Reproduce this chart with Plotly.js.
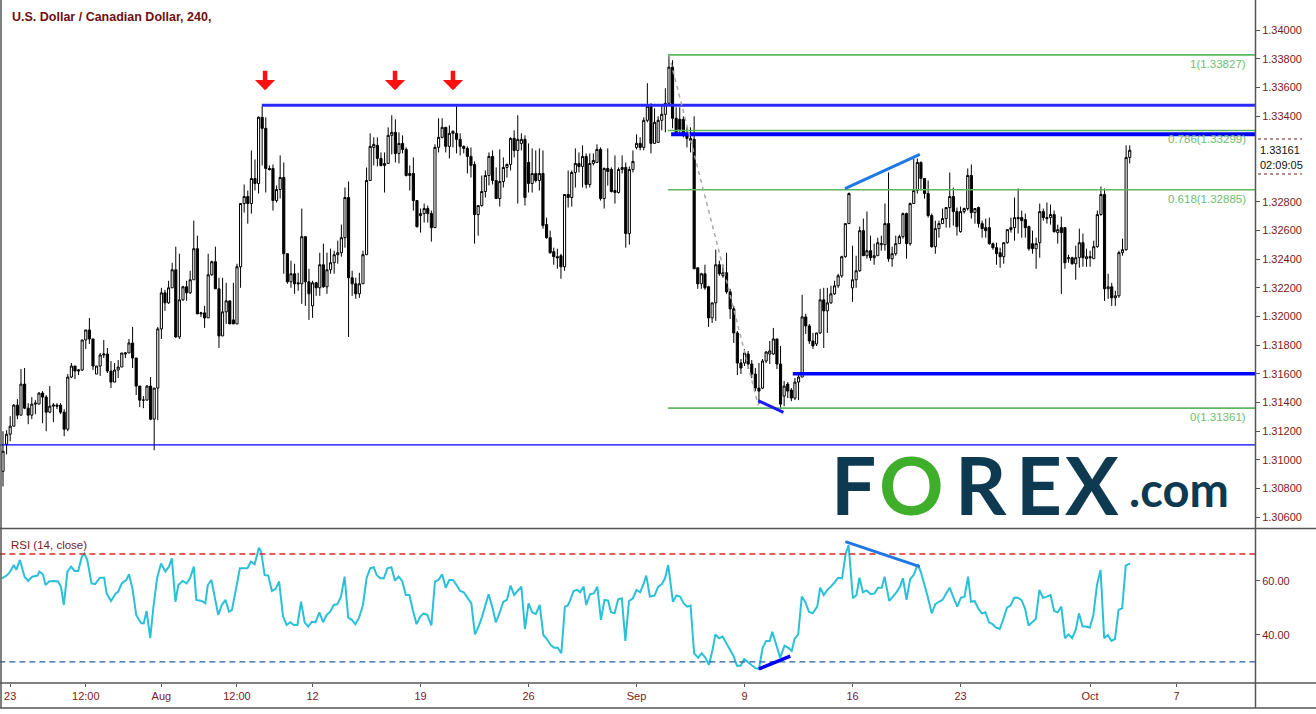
<!DOCTYPE html>
<html><head><meta charset="utf-8">
<script src="https://cdn.plot.ly/plotly-3.0.1.min.js"></script>
<style>html,body{margin:0;padding:0;background:#fff;}#chart{width:1316px;height:714px;}</style>
</head><body><div id="chart"></div>
<script>
// ---------- DATA ----------
const openP=[1.30920,1.31109,1.31179,1.31235,1.31382,1.31312,1.31529,1.31361,1.31312,1.31389,
1.31389,1.31466,1.31438,1.31333,1.31375,1.31382,1.31382,1.31333,1.31214,1.31578,
1.31655,1.31620,1.31627,1.31837,1.31907,1.31844,1.31599,1.31655,1.31732,1.31739,
1.31620,1.31543,1.31627,1.31648,1.31739,1.31746,1.31816,1.31711,1.31515,1.31417,
1.31417,1.31515,1.31284,1.31501,1.31914,1.32166,1.32096,1.32201,1.32327,1.31858,
1.32117,1.32208,1.32166,1.32257,1.32474,1.32019,1.32026,1.31991,1.32292,1.32383,
1.32194,1.31865,1.32033,1.32110,1.31977,1.31949,1.32348,1.32789,1.32838,1.32789,
1.32964,1.32929,1.33391,1.33314,1.33034,1.33034,1.32810,1.32887,1.32971,1.32439,
1.32243,1.32299,1.32236,1.32229,1.32558,1.32243,1.32075,1.32236,1.32201,1.32362,
1.32208,1.32327,1.32376,1.32432,1.32446,1.32551,1.32831,1.32271,1.32229,1.32159,
1.32229,1.32432,1.32950,1.33181,1.33195,1.33104,1.33055,1.33069,1.33265,1.33286,
1.33139,1.33209,1.33167,1.32985,1.32999,1.32810,1.32705,1.32719,1.32754,1.32719,
1.32621,1.33181,1.33251,1.33321,1.33188,1.33279,1.33279,1.33237,1.33188,1.33174,
1.33118,1.33062,1.32712,1.32775,1.32873,1.32985,1.33118,1.32950,1.32824,1.32943,
1.33041,1.33062,1.33244,1.33160,1.33209,1.33237,1.33076,1.32929,1.32999,1.32950,
1.32999,1.32642,1.32551,1.32453,1.32418,1.32425,1.32348,1.32852,1.32831,1.33006,
1.33069,1.33048,1.33118,1.32922,1.33069,1.33076,1.33167,1.32824,1.33034,1.33027,
1.32880,1.32866,1.33027,1.33041,1.32579,1.33027,1.33181,1.33209,1.33181,1.33370,
1.33468,1.33209,1.33216,1.33370,1.33412,1.33489,1.33741,1.33384,1.33377,1.33377,
1.33279,1.33230,1.33237,1.32341,1.32229,1.32299,1.32208,1.31991,1.32096,1.32362,
1.32285,1.32306,1.32173,1.32054,1.31886,1.31676,1.31676,1.31739,1.31669,1.31599,
1.31501,1.31501,1.31690,1.31739,1.31739,1.31844,1.31669,1.31445,1.31529,1.31487,
1.31431,1.31543,1.31578,1.31998,1.31935,1.31830,1.31809,1.31886,1.32117,1.32040,
1.32096,1.32159,1.32215,1.32285,1.32418,1.32649,1.32201,1.32257,1.32320,1.32600,
1.32425,1.32460,1.32411,1.32425,1.32502,1.32502,1.32649,1.32404,1.32439,1.32509,
1.32558,1.32719,1.32509,1.32789,1.32880,1.33076,1.32964,1.32859,1.32705,1.32488,
1.32614,1.32649,1.32684,1.32761,1.32838,1.32733,1.32593,1.32733,1.32754,1.32985,
1.32726,1.32761,1.32649,1.32621,1.32621,1.32509,1.32481,1.32446,1.32418,1.32516,
1.32607,1.32621,1.32691,1.32691,1.32677,1.32628,1.32509,1.32474,1.32516,1.32733,
1.32691,1.32691,1.32712,1.32586,1.32621,1.32621,1.32404,1.32411,1.32369,1.32411,
1.32516,1.32404,1.32418,1.32404,1.32488,1.32712,1.32852,1.32194,1.32208,1.32131,
1.32145,1.32446,1.32467,1.33111];
const highP=[1.31200,1.31207,1.31305,1.31389,1.31424,1.31634,1.31641,1.31396,1.31438,1.31417,
1.31473,1.31480,1.31452,1.31515,1.31396,1.31396,1.31396,1.31354,1.31599,1.31676,
1.31655,1.31634,1.31837,1.31907,1.31991,1.31844,1.31655,1.31746,1.31837,1.31781,
1.31690,1.31676,1.31697,1.31746,1.31753,1.31844,1.31928,1.31711,1.31515,1.31445,
1.31522,1.31578,1.31501,1.31928,1.32201,1.32187,1.32250,1.32376,1.32488,1.32439,
1.32215,1.32250,1.32320,1.32670,1.32565,1.32033,1.32075,1.32439,1.32390,1.32488,
1.32271,1.32271,1.32236,1.32110,1.32236,1.32369,1.32789,1.32922,1.32880,1.33160,
1.33097,1.33398,1.33468,1.33391,1.33055,1.33062,1.32915,1.33125,1.33076,1.32439,
1.32390,1.32369,1.32306,1.32754,1.32558,1.32334,1.32250,1.32243,1.32446,1.32509,
1.32446,1.32474,1.32460,1.32530,1.32642,1.32901,1.32943,1.32320,1.32271,1.32306,
1.32460,1.33041,1.33279,1.33251,1.33251,1.33146,1.33146,1.33321,1.33405,1.33377,
1.33286,1.33265,1.33181,1.33055,1.33111,1.32810,1.32754,1.32789,1.32775,1.32740,
1.33202,1.33384,1.33384,1.33321,1.33335,1.33300,1.33475,1.33279,1.33195,1.33188,
1.33181,1.33083,1.32775,1.32985,1.33020,1.33146,1.33160,1.33041,1.33167,1.33111,
1.33069,1.33251,1.33300,1.33405,1.33279,1.33265,1.33209,1.33174,1.33160,1.33174,
1.33160,1.32691,1.32600,1.32481,1.32474,1.32439,1.32852,1.33020,1.33020,1.33174,
1.33146,1.33195,1.33139,1.33139,1.33139,1.33202,1.33181,1.33041,1.33174,1.33041,
1.33125,1.33041,1.33125,1.33076,1.33048,1.33160,1.33272,1.33251,1.33391,1.33629,
1.33489,1.33454,1.33398,1.33482,1.33594,1.33827,1.33790,1.33461,1.33461,1.33398,
1.33321,1.33321,1.33398,1.32341,1.32306,1.32362,1.32215,1.32096,1.32467,1.32390,
1.32362,1.32446,1.32194,1.32075,1.31900,1.31704,1.31774,1.31760,1.31697,1.31641,
1.31676,1.31704,1.31760,1.31830,1.31921,1.31844,1.31795,1.31550,1.31543,1.31501,
1.31571,1.31606,1.32152,1.32019,1.31949,1.31886,1.31886,1.32194,1.32201,1.32201,
1.32215,1.32250,1.32299,1.32425,1.32649,1.32866,1.32495,1.32425,1.32628,1.32684,
1.32733,1.32565,1.32509,1.32551,1.32565,1.32789,1.33006,1.32488,1.32565,1.32572,
1.32726,1.32726,1.32796,1.33104,1.33104,1.33083,1.32964,1.32950,1.32719,1.32670,
1.32670,1.32754,1.32761,1.33006,1.32901,1.32761,1.32768,1.32761,1.33034,1.33062,
1.32754,1.32768,1.32670,1.32684,1.32691,1.32516,1.32516,1.32481,1.32516,1.32607,
1.32691,1.32831,1.32894,1.32740,1.32719,1.32635,1.32600,1.32551,1.32789,1.32754,
1.32796,1.32782,1.32740,1.32642,1.32698,1.32621,1.32432,1.32418,1.32495,1.32614,
1.32579,1.32474,1.32460,1.32530,1.32740,1.32908,1.32894,1.32299,1.32236,1.32180,
1.32460,1.32544,1.33195,1.33195];
const lowP=[1.30815,1.31039,1.31130,1.31235,1.31284,1.31312,1.31354,1.31249,1.31284,1.31319,
1.31389,1.31256,1.31200,1.31326,1.31263,1.31354,1.31319,1.31165,1.31200,1.31571,
1.31564,1.31592,1.31620,1.31774,1.31809,1.31627,1.31599,1.31585,1.31711,1.31606,
1.31501,1.31543,1.31571,1.31648,1.31711,1.31746,1.31641,1.31452,1.31368,1.31361,
1.31417,1.31277,1.31067,1.31277,1.31844,1.32040,1.32089,1.32201,1.31851,1.31844,
1.32110,1.32110,1.32159,1.32257,1.32019,1.31998,1.31921,1.31991,1.32285,1.32194,
1.31781,1.31865,1.31949,1.31949,1.31949,1.31949,1.32201,1.32726,1.32649,1.32719,
1.32880,1.32859,1.33055,1.32866,1.33020,1.32740,1.32796,1.32824,1.32299,1.32229,
1.32201,1.32159,1.32180,1.32089,1.32075,1.31977,1.31991,1.32145,1.32145,1.32201,
1.32159,1.32299,1.32299,1.32369,1.32418,1.32481,1.31858,1.32145,1.32124,1.32131,
1.32229,1.32432,1.32950,1.33055,1.33048,1.33048,1.32866,1.33069,1.33132,1.33076,
1.33069,1.33139,1.32978,1.32880,1.32740,1.32621,1.32586,1.32656,1.32656,1.32523,
1.32621,1.33146,1.33244,1.33146,1.33104,1.33181,1.33139,1.33125,1.33139,1.32999,
1.32971,1.32509,1.32565,1.32768,1.32831,1.32915,1.32922,1.32824,1.32768,1.32901,
1.32971,1.33020,1.33111,1.32789,1.33160,1.32775,1.32866,1.32866,1.32936,1.32880,
1.32614,1.32544,1.32439,1.32362,1.32334,1.32264,1.32320,1.32761,1.32768,1.32901,
1.33006,1.32901,1.32894,1.32901,1.33055,1.33076,1.32810,1.32754,1.32915,1.32866,
1.32789,1.32859,1.32999,1.32481,1.32502,1.33006,1.33167,1.33160,1.33160,1.33356,
1.33139,1.33209,1.33216,1.33300,1.33286,1.33475,1.33314,1.33265,1.33265,1.33251,
1.33181,1.33146,1.32334,1.32194,1.32194,1.32187,1.31928,1.31956,1.31970,1.32285,
1.32271,1.32159,1.31984,1.31816,1.31592,1.31599,1.31655,1.31634,1.31571,1.31480,
1.31389,1.31494,1.31676,1.31669,1.31732,1.31634,1.31354,1.31375,1.31431,1.31410,
1.31417,1.31417,1.31578,1.31879,1.31809,1.31774,1.31795,1.31879,1.31781,1.31886,
1.32089,1.32152,1.32201,1.32271,1.32411,1.32649,1.32103,1.32201,1.32313,1.32425,
1.32404,1.32390,1.32362,1.32425,1.32460,1.32460,1.32383,1.32348,1.32425,1.32509,
1.32544,1.32404,1.32495,1.32789,1.32859,1.32880,1.32824,1.32691,1.32481,1.32439,
1.32551,1.32649,1.32621,1.32621,1.32635,1.32565,1.32586,1.32719,1.32740,1.32684,
1.32649,1.32621,1.32551,1.32551,1.32502,1.32467,1.32362,1.32341,1.32369,1.32509,
1.32586,1.32530,1.32579,1.32551,1.32551,1.32460,1.32439,1.32334,1.32411,1.32670,
1.32649,1.32642,1.32586,1.32509,1.32159,1.32334,1.32376,1.32362,1.32257,1.32341,
1.32348,1.32348,1.32348,1.32404,1.32481,1.32705,1.32110,1.32124,1.32075,1.32075,
1.32131,1.32425,1.32460,1.33069];
const closeP=[1.31060,1.31179,1.31235,1.31382,1.31312,1.31529,1.31361,1.31312,1.31389,1.31396,
1.31466,1.31438,1.31333,1.31375,1.31382,1.31375,1.31333,1.31214,1.31578,1.31655,
1.31620,1.31627,1.31837,1.31907,1.31844,1.31655,1.31655,1.31732,1.31739,1.31620,
1.31543,1.31627,1.31648,1.31746,1.31746,1.31816,1.31711,1.31515,1.31417,1.31417,
1.31515,1.31284,1.31501,1.31914,1.32166,1.32096,1.32201,1.32327,1.31858,1.32117,
1.32208,1.32166,1.32257,1.32474,1.32019,1.32026,1.31991,1.32292,1.32383,1.32194,
1.31865,1.32033,1.32110,1.31949,1.31949,1.32348,1.32789,1.32838,1.32789,1.32964,
1.32929,1.33391,1.33314,1.33034,1.33027,1.32810,1.32887,1.32971,1.32439,1.32243,
1.32299,1.32229,1.32229,1.32558,1.32243,1.32159,1.32236,1.32201,1.32362,1.32208,
1.32327,1.32376,1.32432,1.32446,1.32551,1.32831,1.32271,1.32229,1.32159,1.32229,
1.32432,1.32950,1.33188,1.33202,1.33104,1.33055,1.33069,1.33265,1.33286,1.33139,
1.33209,1.33167,1.32985,1.32999,1.32810,1.32628,1.32719,1.32754,1.32719,1.32621,
1.33181,1.33251,1.33321,1.33188,1.33279,1.33293,1.33237,1.33188,1.33174,1.33118,
1.33055,1.32712,1.32775,1.32873,1.32985,1.33118,1.32950,1.32824,1.32943,1.33041,
1.33062,1.33244,1.33160,1.33237,1.33237,1.32831,1.32929,1.32999,1.32950,1.32999,
1.32635,1.32551,1.32446,1.32418,1.32411,1.32348,1.32852,1.32831,1.33006,1.33069,
1.33048,1.33118,1.32922,1.33069,1.33090,1.33167,1.32824,1.33034,1.33013,1.32873,
1.32866,1.33027,1.33041,1.32579,1.33027,1.33083,1.33209,1.33181,1.33370,1.33468,
1.33209,1.33356,1.33370,1.33412,1.33489,1.33741,1.33384,1.33272,1.33307,1.33279,
1.33244,1.33244,1.32334,1.32229,1.32299,1.32201,1.31991,1.32096,1.32362,1.32299,
1.32306,1.32173,1.32054,1.31886,1.31676,1.31641,1.31746,1.31669,1.31599,1.31501,
1.31480,1.31690,1.31753,1.31760,1.31844,1.31669,1.31389,1.31515,1.31480,1.31431,
1.31543,1.31578,1.31998,1.31935,1.31830,1.31795,1.31886,1.32117,1.32040,1.32096,
1.32159,1.32215,1.32285,1.32418,1.32649,1.32859,1.32257,1.32320,1.32600,1.32425,
1.32460,1.32411,1.32425,1.32516,1.32509,1.32649,1.32404,1.32439,1.32509,1.32558,
1.32719,1.32509,1.32789,1.32880,1.33076,1.32964,1.32859,1.32705,1.32488,1.32614,
1.32649,1.32684,1.32761,1.32838,1.32733,1.32628,1.32733,1.32754,1.32985,1.32726,
1.32754,1.32649,1.32614,1.32600,1.32509,1.32481,1.32439,1.32418,1.32516,1.32607,
1.32621,1.32691,1.32684,1.32670,1.32621,1.32474,1.32474,1.32509,1.32733,1.32691,
1.32684,1.32712,1.32593,1.32607,1.32586,1.32376,1.32411,1.32369,1.32411,1.32516,
1.32411,1.32418,1.32411,1.32488,1.32712,1.32852,1.32194,1.32208,1.32131,1.32145,
1.32446,1.32467,1.33111,1.33161];

const rsiX=[-0.3,1.2,2.0,3.0,3.7,4.7,6.0,7.0,8.1,9.0,
9.6,10.1,11.1,11.8,12.8,14.1,15.3,16.1,16.9,17.9,
18.9,19.9,20.9,21.9,22.6,23.4,24.6,25.6,26.9,28.1,
28.8,30.0,31.3,32.0,33.0,34.3,35.0,36.0,37.0,38.4,
39.1,39.9,40.9,41.8,42.8,43.9,45.1,46.1,46.9,47.9,
48.7,49.9,51.0,52.0,53.0,53.7,55.2,56.2,56.9,57.9,
58.8,59.8,60.8,61.8,62.8,63.6,64.8,65.8,67.9,68.9,
69.9,71.1,71.7,72.7,73.7,74.7,75.7,76.7,77.8,78.8,
79.8,80.8,81.8,82.8,83.8,84.8,85.8,86.8,87.9,88.9,
89.9,90.9,91.9,92.9,93.9,94.9,95.9,96.9,97.9,98.9,
100.0,101.0,102.0,103.0,103.8,104.8,105.8,106.8,107.9,108.9,
109.9,110.9,111.9,112.9,113.9,114.9,115.9,116.9,117.9,119.0,
120.0,121.0,122.0,123.0,124.0,125.0,126.0,127.0,128.0,129.1,
130.1,131.1,132.1,133.1,134.1,134.9,135.9,136.9,137.9,139.0,
140.0,141.0,142.0,143.0,144.0,145.0,146.0,147.0,148.0,149.1,
150.1,151.1,152.1,153.1,154.1,155.1,156.1,156.9,
157.5,158.5,159.5,160.3,161.3,162.0,163.1,164.1,165.1,166.1,
167.1,168.1,168.9,169.9,170.9,171.9,172.9,173.9,175.0,176.0,
177.0,178.0,178.7,179.7,181.0,182.0,183.0,183.9,184.8,186.1,
187.1,188.1,189.1,190.1,191.0,192.0,193.1,194.1,195.1,196.1,
197.1,197.9,198.9,199.9,200.9,201.9,202.9,203.9,204.9,205.9,
206.9,208.0,209.0,210.0,211.0,212.0,213.0,213.7,214.6,215.9,
217.1,218.1,219.1,219.9,220.9,221.9,222.9,223.9,224.9,226.2,
227.0,228.0,229.0,230.0,231.0,232.0,233.1,234.1,234.9,236.1,
237.1,237.9,238.9,239.9,241.1,242.1,243.1,244.1,244.9,246.2,
247.2,248.2,249.2,250.0,251.0,252.0,253.0,254.1,255.0,256.0,
257.0,258.0,259.0,260.0,261.0,262.0,263.0,264.1,265.1,266.1,
267.1,268.1,268.9,269.9,270.9,271.9,272.9,273.9,274.9,275.9,
276.9,277.9,278.9,279.9,280.9,281.9,282.9,283.9,284.9,285.9,
286.9,287.9,288.9,290.0,291.0,292.0,293.0,294.0,295.0,296.0,
297.0,298.0,298.9,299.9,300.9,301.9,302.9,303.9,304.9,305.9,
306.9,307.9,308.9,309.9,310.9,311.9,313.1];
const rsiV=[61.0,62.2,63.5,65.9,64.1,67.8,61.6,60.0,61.6,62.0,
62.0,63.5,62.5,58.5,59.8,60.0,59.8,57.9,51.1,63.5,
65.3,63.7,63.7,69.0,70.2,67.8,59.1,58.8,61.2,61.2,
55.4,52.6,55.4,56.0,59.1,60.4,62.5,57.0,47.4,44.3,
44.3,48.9,38.8,50.5,61.0,66.5,63.5,65.3,68.4,52.3,
58.5,60.0,59.1,61.2,65.3,53.0,52.6,51.7,58.5,60.4,
53.6,47.4,51.1,53.0,48.6,49.3,57.5,64.7,64.7,67.2,
66.2,72.3,70.9,62.2,62.0,56.3,57.0,59.8,46.8,43.7,
44.7,43.7,43.7,52.3,44.7,43.1,44.9,44.7,48.4,44.7,
47.4,48.6,51.1,51.4,54.2,61.6,46.4,45.6,44.0,46.4,
51.1,61.0,64.7,65.1,62.2,61.0,61.0,64.7,65.1,60.1,
61.6,60.0,54.8,54.8,48.9,44.0,46.8,48.0,47.4,43.5,
59.8,60.4,62.5,57.5,60.4,60.4,58.5,56.3,55.8,53.6,
51.7,40.2,43.1,46.8,51.7,55.1,50.5,44.7,48.0,52.3,
53.0,58.3,54.8,56.3,57.9,42.2,51.7,48.4,47.7,51.1,
40.0,38.5,36.3,35.3,35.3,33.2,50.5,50.9,
52.6,56.3,56.7,55.8,57.9,51.1,55.1,55.4,57.9,45.6,
53.0,52.7,48.4,48.0,53.2,53.6,37.8,52.6,53.6,56.7,
55.8,59.1,62.0,54.2,54.6,57.9,58.8,61.0,65.9,52.3,
54.6,54.2,51.7,50.5,50.9,33.2,31.6,33.2,31.6,28.9,
34.4,40.2,38.8,39.4,36.9,34.4,32.3,28.6,28.6,31.1,
30.1,28.9,27.7,27.4,35.1,37.8,37.8,41.2,36.9,31.6,
36.0,35.3,34.1,38.5,40.2,54.2,52.1,48.6,48.0,50.5,
57.5,54.8,56.7,57.9,59.5,61.2,61.0,70.2,73.3,53.6,
54.8,61.2,55.8,56.5,55.1,55.4,57.5,57.5,61.6,52.6,
54.2,55.8,57.9,61.0,53.0,60.7,62.2,66.2,63.2,58.8,
53.6,48.0,51.4,52.3,53.0,55.4,57.5,53.6,50.5,53.8,
54.2,61.6,52.3,52.6,49.9,48.0,48.4,44.7,44.0,42.7,
42.2,45.9,50.1,50.9,53.8,53.8,53.0,49.9,43.5,44.7,
45.9,56.7,53.8,54.2,54.8,48.9,48.4,50.5,38.8,40.2,
38.8,41.9,48.0,43.1,43.1,42.7,47.4,58.5,64.1,38.8,
40.0,37.8,38.5,49.3,49.9,65.7,66.5];

const tickIdx=[2,23,44,65,86,116,146,176,206,236,266,302,326];
const tickText=['23','12:00','Aug','12:00','12','19','26','Sep','9','16','23','Oct','7'];
const priceTicks=[1.306,1.308,1.310,1.312,1.314,1.316,1.318,1.320,1.322,1.324,1.326,1.328,1.334,1.336,1.338,1.340];
const rsiTicks=[40,60];
const fibLevels=[1.33827,1.33299,1.32885,1.31361];
const fibText=['1(1.33827)','0.786(1.33299)','0.618(1.32885)','0(1.31361)'];
const fibStartIdx=184.7;
const resistanceLevel=1.33476, resistanceStartIdx=71.9;
const upperLevel=1.33273, upperStartIdx=185.6;
const supportLevel=1.31601, supportStartIdx=219.4;
const baseLevel=1.31105;
const arrowIdx=[72.8,108.9,125.0];
const arrowPrice=1.33580;
const lastPrice=1.33161, countdown='02:09:05';
const rsiUpper=70, rsiLower=30;
const swingX=[185.0,209.8], swingY=[1.33827,1.31380];
const priceDivX=[233.9,254.7], priceDivY=[1.32893,1.33133];
const priceLowX=[209.8,216.8], priceLowY=[1.31413,1.31331];
const rsiDivX=[234.0,254.7], rsiDivY=[74.6,65.3];
const rsiLowX=[210.0,218.7], rsiLowY=[27.4,32.2];
const titleText='U.S. Dollar / Canadian Dollar, 240,';
const rsiTitle='RSI (14, close)';

// ---------- LAYOUT HELPERS ----------
const PW=1255, PH=683;
const pxX=v=>v/PW;
const pxY=v=>(PH-v)/PH;
const maroon='#7b1a1a';
const axisCol='#555555';
const fontAx='Liberation Sans, Arial, sans-serif';
const idx=openP.map((_,i)=>i);

const traces=[
 {type:'candlestick',x:idx,open:openP,high:highP,low:lowP,close:closeP,xaxis:'x',yaxis:'y',
  increasing:{line:{color:'#000',width:1},fillcolor:'#ffffff'},
  decreasing:{line:{color:'#000',width:1},fillcolor:'#000000'},
  whiskerwidth:0,hoverinfo:'skip',showlegend:false},
 {type:'scatter',mode:'lines',x:rsiX,y:rsiV,xaxis:'x',yaxis:'y2',
  line:{color:'#29c0d8',width:2},hoverinfo:'skip',showlegend:false}
];

const xEnd=347.8;
const shapes=[];
function hline(y0,xs,color,w,dash,yref){shapes.push({type:'line',xref:'x',yref:yref||'y',x0:xs,x1:xEnd,y0:y0,y1:y0,line:{color:color,width:w,dash:dash||'solid'}});}
fibLevels.forEach(l=>hline(l,fibStartIdx,'#5cb860',1.6));
hline(resistanceLevel,resistanceStartIdx,'#2a2aff',3);
hline(upperLevel,upperStartIdx,'#0000ff',4);
hline(supportLevel,supportStartIdx,'#0000ff',3.5);
hline(baseLevel,-1,'#0000ff',1.3);
hline(rsiUpper,-1,'#e02424',1.3,'6px,4px','y2');
hline(rsiLower,-1,'#1f5fa8',1.3,'6px,4px','y2');
function seg(xs,ys,color,w,dash,yref){shapes.push({type:'line',xref:'x',yref:yref||'y',x0:xs[0],x1:xs[1],y0:ys[0],y1:ys[1],line:{color:color,width:w,dash:dash||'solid'}});}
seg(swingX,swingY,'#a8a8a8',1.5,'4px,4px');
seg(priceDivX,priceDivY,'#1e78e6',3);
seg(priceLowX,priceLowY,'#1a1aff',3);
seg(rsiDivX,rsiDivY,'#1e78e6',3,'solid','y2');
seg(rsiLowX,rsiLowY,'#0000ff',3.5,'solid','y2');
// frame lines
function pline(x0,y0,x1,y1,c,w,d){shapes.push({type:'line',xref:'paper',yref:'paper',x0:pxX(x0),y0:pxY(y0),x1:pxX(x1),y1:pxY(y1),line:{color:c,width:w,dash:d||'solid'}});}
pline(0,528.5,1316,528.5,axisCol,1.5);
pline(0,683,1316,683,axisCol,1.5);
pline(0,708,1316,708,axisCol,1.5);
pline(1,0,1,708,axisCol,1.5);
pline(1255.5,0,1255.5,708,axisCol,1.5);
pline(1258,139,1302,139,maroon,1.2,'dot');
pline(1258,174,1302,174,maroon,1.2,'dot');

const annotations=[];
annotations.push({xref:'paper',yref:'paper',x:pxX(10),y:pxY(17),xanchor:'left',yanchor:'middle',showarrow:false,
 text:'<b>'+titleText+'</b>',font:{family:fontAx,size:12.5,color:'#6e1010'}});
annotations.push({xref:'paper',yref:'paper',x:pxX(9),y:pxY(545),xanchor:'left',yanchor:'middle',showarrow:false,
 text:rsiTitle,font:{family:fontAx,size:11.5,color:maroon}});
fibLevels.forEach((l,i)=>annotations.push({xref:'paper',yref:'y',x:pxX(1248),y:l,xanchor:'right',yanchor:'top',yshift:-1,showarrow:false,
 text:fibText[i],font:{family:fontAx,size:11.5,color:'#6cc070'}}));
arrowIdx.forEach(a=>annotations.push({xref:'x',yref:'y',x:a,y:arrowPrice,ax:0,ay:-21,showarrow:true,arrowhead:1,arrowsize:0.75,arrowwidth:4.5,arrowcolor:'#ff1010',text:''}));
annotations.push({xref:'paper',yref:'y',x:pxX(1258),y:lastPrice,xanchor:'left',yanchor:'middle',showarrow:false,
 text:lastPrice.toFixed(5),bgcolor:'#ffffff',borderpad:1,font:{family:fontAx,size:11,color:'#111'}});
annotations.push({xref:'paper',yref:'y',x:pxX(1258),y:lastPrice,yshift:-15,xanchor:'left',yanchor:'middle',showarrow:false,
 text:countdown,bgcolor:'#ffffff',borderpad:1,font:{family:fontAx,size:11,color:'#111'}});
// FOREX.com watermark
const navy='#0d3a50', green='#3fae2a';
const logoLetters=['F','O','R','E','X'], logoX=[853,912,981,1039,1092];
logoLetters.forEach((c,i)=>annotations.push({xref:'paper',yref:'paper',x:pxX(logoX[i]),y:pxY(484),xanchor:'center',yanchor:'middle',showarrow:false,
 text:'<b>'+c+'</b>',font:{family:'Lato, Open Sans, sans-serif',size:80,color:c==='O'?green:navy}}));
annotations.push({xref:'paper',yref:'paper',x:pxX(1127),y:pxY(489),xanchor:'left',yanchor:'middle',showarrow:false,
 text:'<b>.com</b>',font:{family:'Lato, Open Sans, sans-serif',size:47,color:navy}});

const layout={
 width:1316,height:714,margin:{l:0,r:61,t:0,b:31,pad:0},
 paper_bgcolor:'#ffffff',plot_bgcolor:'#ffffff',showlegend:false,hovermode:false,
 boxgap:0.15,
 xaxis:{range:[-0.83,xEnd],anchor:'y2',tickmode:'array',tickvals:tickIdx,ticktext:tickText,
  ticks:'outside',ticklen:3,tickcolor:axisCol,showline:false,showgrid:false,zeroline:false,
  tickfont:{family:fontAx,size:11,color:maroon},rangeslider:{visible:false},fixedrange:true},
 yaxis:{domain:[pxY(528.5),1],range:[1.305210,1.342098],side:'right',tickmode:'array',tickvals:priceTicks,
  ticktext:priceTicks.map(v=>v.toFixed(5)),ticks:'outside',ticklen:4,tickcolor:axisCol,showline:false,
  showgrid:false,zeroline:false,tickfont:{family:fontAx,size:11,color:maroon},fixedrange:true},
 yaxis2:{domain:[0,pxY(529.5)],range:[22.2,79.07],side:'right',anchor:'x',tickmode:'array',tickvals:rsiTicks,
  ticktext:rsiTicks.map(v=>v.toFixed(2)),ticks:'outside',ticklen:4,tickcolor:axisCol,showline:false,
  showgrid:false,zeroline:false,tickfont:{family:fontAx,size:11,color:maroon},fixedrange:true},
 shapes:shapes,annotations:annotations
};
Plotly.newPlot('chart',traces,layout,{displayModeBar:false,staticPlot:true});
</script></body></html>
